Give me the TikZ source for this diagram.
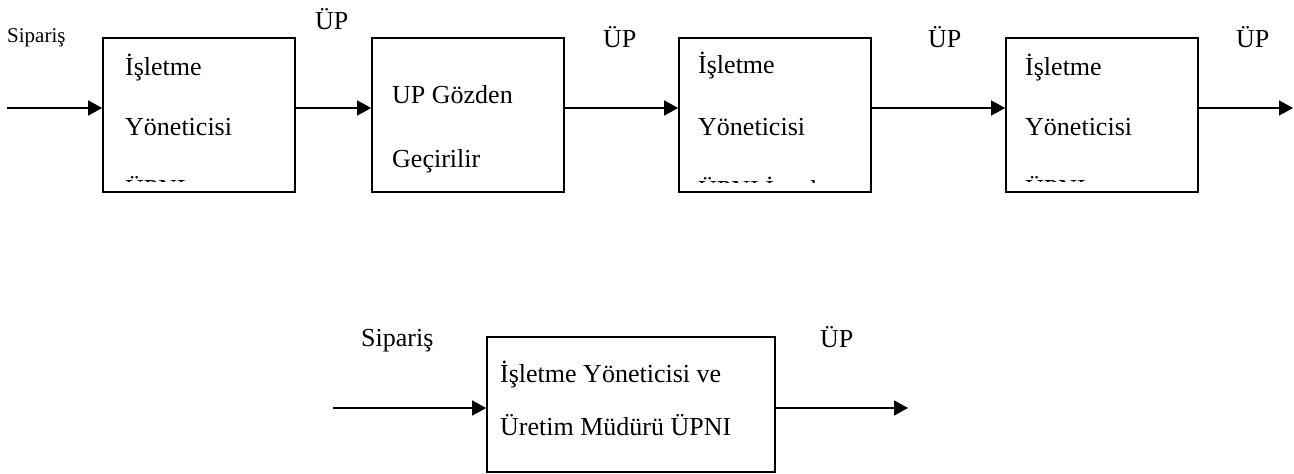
\documentclass[tikz,border=0pt]{standalone}
\usepackage{fontspec}
\setmainfont{Liberation Serif}
\usetikzlibrary{arrows.meta}
\tikzset{
  boxnode/.style={draw, line width=1.6pt, inner sep=0pt, minimum width=#1},
  boxnode/.default=192pt,
  txt/.style={inner sep=0pt, anchor=base west, font=\fontsize{26pt}{30pt}\selectfont},
  smalltxt/.style={inner sep=0pt, anchor=base west, font=\fontsize{21pt}{25pt}\selectfont},
  arr/.style={line width=1.4pt, -{Triangle[length=14pt,width=15pt]}}
}
\begin{document}
\begin{tikzpicture}[x=1pt,y=-1pt]
\useasboundingbox (0,0) rectangle (1294,474);
% top row boxes
\node[boxnode, minimum height=154pt] (b1) at (199,115) {};
\node[boxnode, minimum height=154pt] (b2) at (468,115) {};
\node[boxnode, minimum height=154pt] (b3) at (775,115) {};
\node[boxnode, minimum height=154pt] (b4) at (1102,115) {};
% bottom box
\node[boxnode=288pt, minimum height=135pt] (b5) at (631,404.5) {};

% texts in box 1
\node[txt] (t1a) at (125,75) {İşletme};
\node[txt] (t1b) at (125,135) {Yöneticisi};
\begin{scope}
  \clip (104,39) rectangle (294,181.5);
  \node[txt] (t1c) at (125,197) {ÜPNI};
\end{scope}
% texts in box 2
\node[txt] (t2a) at (392,103) {UP Gözden};
\node[txt] (t2b) at (392,167) {Geçirilir};
% texts in box 3
\node[txt] (t3a) at (698,73) {İşletme};
\node[txt] (t3b) at (698,135) {Yöneticisi};
\begin{scope}
  \clip (680,39) rectangle (870,182);
  \node[txt] (t3c) at (698,198) {ÜPNI İnceler};
\end{scope}
% texts in box 4
\node[txt] (t4a) at (1025,75) {İşletme};
\node[txt] (t4b) at (1025,135) {Yöneticisi};
\begin{scope}
  \clip (1007,39) rectangle (1197,181.5);
  \node[txt] (t4c) at (1025,197) {ÜPNI};
\end{scope}
% texts in box 5
\node[txt] (t5a) at (500,382) {İşletme Yöneticisi ve};
\node[txt] (t5b) at (500,435) {Üretim Müdürü ÜPNI};

% labels
\node[smalltxt] (l0) at (7,42) {Sipariş};
\node[txt] (l1) at (315,29) {ÜP};
\node[txt] (l2) at (603,47) {ÜP};
\node[txt] (l3) at (928,47) {ÜP};
\node[txt] (l4) at (1236,47) {ÜP};
\node[txt] (l5) at (361,346) {Sipariş};
\node[txt] (l6) at (820,347) {ÜP};

% connectors top row
\coordinate (s1) at (7,108);
\coordinate (e1) at (1293,108);
\draw[arr] (s1) -- (b1.west |- s1);
\draw[arr] (b1.east |- s1) -- (b2.west |- s1);
\draw[arr] (b2.east |- s1) -- (b3.west |- s1);
\draw[arr] (b3.east |- s1) -- (b4.west |- s1);
\draw[arr] (b4.east |- s1) -- (e1);
% connectors bottom
\coordinate (s2) at (333,408);
\coordinate (e2) at (908,408);
\draw[arr] (s2) -- (b5.west |- s2);
\draw[arr] (b5.east |- s2) -- (e2);
\end{tikzpicture}
\end{document}
